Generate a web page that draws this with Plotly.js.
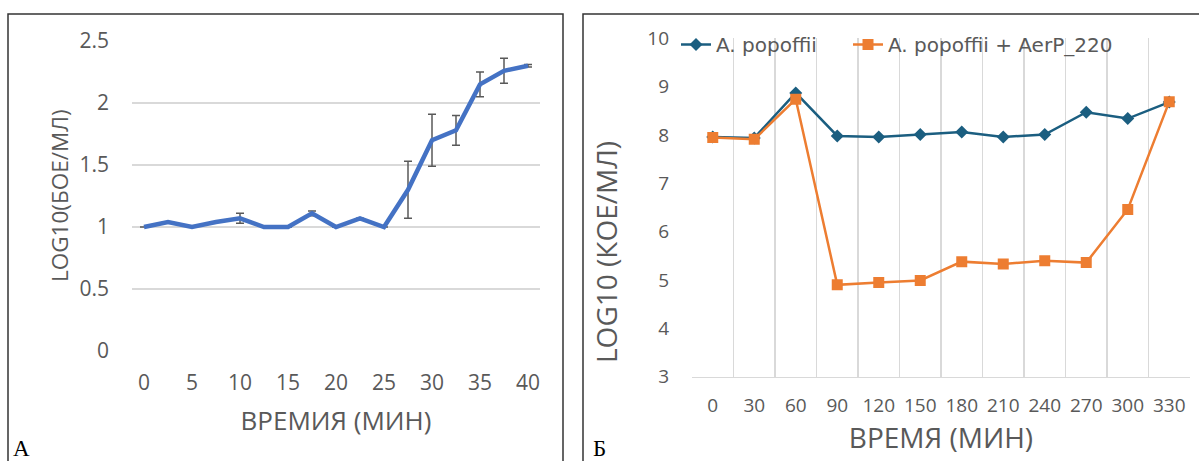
<!DOCTYPE html>
<html>
<head>
<meta charset="utf-8">
<script src="https://cdn.plot.ly/plotly-3.0.1.min.js"></script>
<style>
html,body{margin:0;padding:0;background:#fff;}
#chart{width:1199px;height:461px;}
</style>
</head>
<body>
<div id="chart"></div>
<script>
// Panel A data
const timeA = [0, 2.5, 5, 7.5, 10, 12.5, 15, 17.5, 20, 22.5, 25, 27.5, 30, 32.5, 35, 37.5, 40];
const logBOE = [1.0, 1.04, 1.0, 1.04, 1.07, 1.0, 1.0, 1.11, 1.0, 1.07, 1.0, 1.30, 1.70, 1.78, 2.15, 2.26, 2.30];
const errA = [0, 0, 0, 0, 0.04, 0, 0, 0.02, 0, 0, 0, 0.23, 0.21, 0.12, 0.10, 0.10, 0.01];

// Panel B data
const timeB = ['0', '30', '60', '90', '120', '150', '180', '210', '240', '270', '300', '330'];
const popoffii = [7.96, 7.94, 8.87, 7.98, 7.96, 8.01, 8.06, 7.96, 8.01, 8.47, 8.34, 8.68];
const popoffiiAerP = [7.95, 7.91, 8.74, 4.90, 4.95, 4.99, 5.38, 5.33, 5.40, 5.36, 6.46, 8.69];
const nameB1 = 'A. popoffii';
const nameB2 = 'A. popoffii + AerP_220';

const W = 1199, H = 461;
const px = v => v / W;
const py = v => 1 - v / H;
const txt = '#595959';
const grid = '#d9d9d9';
const fam = '"Open Sans", "Noto Sans", sans-serif';
const legFont = {size: 20, color: txt, family: '"DejaVu Sans", sans-serif'};

const traces = [
  {
    x: timeA, y: logBOE, xaxis: 'x', yaxis: 'y', type: 'scatter', mode: 'lines',
    line: {color: '#4472C4', width: 4.5},
    error_y: {type: 'data', array: errA, visible: true, color: '#595959', thickness: 1.5, width: 4},
    showlegend: false, hoverinfo: 'skip'
  },
  {
    x: timeB, y: popoffii, xaxis: 'x2', yaxis: 'y2', type: 'scatter', mode: 'lines+markers',
    name: nameB1, legend: 'legend',
    line: {color: '#1B5E80', width: 2.5},
    marker: {symbol: 'diamond', size: 10, color: '#1B5E80'}
  },
  {
    x: timeB, y: popoffiiAerP, xaxis: 'x2', yaxis: 'y2', type: 'scatter', mode: 'lines+markers',
    name: nameB2, legend: 'legend2',
    line: {color: '#ED7D31', width: 2.5},
    marker: {symbol: 'square', size: 11, color: '#ED7D31'}
  }
];

const layout = {
  width: W, height: H,
  margin: {l: 0, r: 0, t: 0, b: 0, autoexpand: false},
  paper_bgcolor: '#fff', plot_bgcolor: 'rgba(0,0,0,0)',
  font: {family: fam, color: txt},
  showlegend: true,
  legend: {
    orientation: 'h', x: px(676), y: py(25), xanchor: 'left', yanchor: 'top',
    font: legFont, bgcolor: 'rgba(0,0,0,0)', itemwidth: 30
  },
  legend2: {
    orientation: 'h', x: px(848), y: py(25), xanchor: 'left', yanchor: 'top',
    font: legFont, bgcolor: 'rgba(0,0,0,0)', itemwidth: 30
  },
  xaxis: {
    domain: [px(132), px(540)], anchor: 'y', automargin: false,
    range: [-1.25, 41.25], tickmode: 'array', tickvals: [0,5,10,15,20,25,30,35,40],
    showgrid: false, zeroline: false, showline: false, ticks: '',
    tickfont: {size: 21, color: txt}, ticklabelstandoff: 17,
    title: {text: 'ВРЕМИЯ (МИН)', font: {size: 26, color: txt}, standoff: 16}
  },
  yaxis: {
    domain: [py(351), py(41)], anchor: 'x', automargin: false,
    range: [0, 2.5], tickmode: 'array', tickvals: [0, 0.5, 1, 1.5, 2, 2.5],
    ticktext: ['0', '0.5', '1', '1.5', '2', '2.5'],
    showgrid: true, gridcolor: grid, gridwidth: 1.5, zeroline: false, showline: false, ticks: '',
    tickfont: {size: 21, color: txt}, ticklabelstandoff: 22
  },
  xaxis2: {
    domain: [px(692), px(1190)], anchor: 'y2', type: 'category', automargin: false,
    categoryorder: 'array', categoryarray: timeB, range: [-0.5, 11.5],
    tickson: 'boundaries', showgrid: true, gridcolor: grid, gridwidth: 1.5,
    zeroline: false, showline: true, linecolor: grid, linewidth: 1.5, ticks: '',
    tickfont: {size: 19, color: txt}, ticklabelstandoff: 11,
    title: {text: 'ВРЕМЯ (МИН)', font: {size: 28, color: txt}, standoff: 10}
  },
  yaxis2: {
    domain: [py(376.7), py(38.3)], anchor: 'x2', automargin: false,
    range: [3, 10], dtick: 1, showgrid: false, zeroline: false, showline: false, ticks: '',
    tickfont: {size: 19, color: txt}, ticklabelstandoff: 22
  },
  shapes: [
    {type: 'rect', xref: 'paper', yref: 'paper', x0: px(8), x1: px(563), y0: py(470), y1: py(14),
     line: {color: '#333333', width: 1.5}},
    {type: 'rect', xref: 'paper', yref: 'paper', x0: px(583), x1: px(1210), y0: py(470), y1: py(14),
     line: {color: '#333333', width: 1.5}}
  ],
  annotations: [
    {text: 'LOG10(БОЕ/МЛ)', xref: 'paper', yref: 'paper', x: px(59), y: py(196), textangle: -90,
     xanchor: 'center', yanchor: 'middle', showarrow: false, font: {size: 22.5, color: txt, family: fam}},
    {text: 'LOG10 (КОЕ/МЛ)', xref: 'paper', yref: 'paper', x: px(606), y: py(252), textangle: -90,
     xanchor: 'center', yanchor: 'middle', showarrow: false, font: {size: 28, color: txt, family: fam}},
    {text: 'А', xref: 'paper', yref: 'paper', x: px(11), y: py(463), xanchor: 'left', yanchor: 'bottom',
     showarrow: false, font: {family: '"Liberation Serif", "DejaVu Serif", serif', size: 23, color: '#000'}},
    {text: 'Б', xref: 'paper', yref: 'paper', x: px(591), y: py(463), xanchor: 'left', yanchor: 'bottom',
     showarrow: false, font: {family: '"Liberation Serif", "DejaVu Serif", serif', size: 23, color: '#000'}}
  ]
};

Plotly.newPlot('chart', traces, layout, {displayModeBar: false, staticPlot: true});
</script>
</body>
</html>
